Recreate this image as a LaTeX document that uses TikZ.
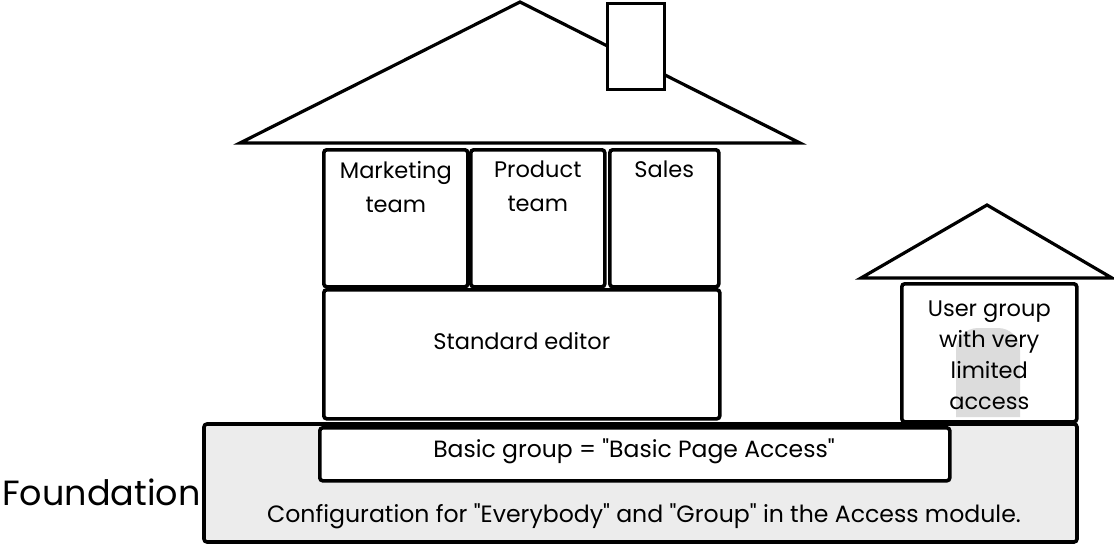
\documentclass[tikz,border=0pt]{standalone}
\usepackage{fontspec}
\setmainfont{Poppins}[Ligatures=TeXOff]
\definecolor{groundgrey}{HTML}{ECECEC}
\definecolor{doorgrey}{HTML}{DCDCDC}
\tikzset{
  sketchbox/.style={draw=black, line width=3.6pt, rounded corners=3pt, fill=white},
  roofline/.style={draw=black, line width=3.2pt, line join=miter, fill=white},
  boxtext/.style={font=\fontsize{22.5}{34}\selectfont, align=center, inner sep=0pt},
  bigtext/.style={font=\fontsize{35}{38}\selectfont, inner sep=0pt}
}
\begin{document}
\begin{tikzpicture}[x=1pt, y=-1pt]
  \useasboundingbox (0,0) rectangle (1114,546);
  % foundation slab
  \path[sketchbox, fill=groundgrey] (204,424) rectangle (1077,542);
  \node[sketchbox, anchor=north west, minimum width=630pt, minimum height=53pt] (basic) at (318,426) {};
  \node[boxtext, font=\fontsize{23.5}{34}\selectfont] (basictxt) at (634,451) {Basic group = "Basic Page Access"};
  \node[boxtext, font=\fontsize{23.6}{34}\selectfont] (conftxt) at (644,516) {Configuration for "Everybody" and "Group" in the Access module.};
  \node[bigtext, anchor=west] (found) at (2,492) {Foundation};
  % main house roof and chimney
  \path[roofline] (240,143) -- (520,2) -- (800,143) -- cycle;
  \path[draw=black, line width=3pt, fill=white] (607,3) rectangle (664,89);
  % main house rooms
  \node[sketchbox, anchor=north west, minimum width=144pt, minimum height=137pt] (mkt) at (322,148) {};
  \node[sketchbox, anchor=north west, minimum width=134pt, minimum height=137pt] (prod) at (469,148) {};
  \node[sketchbox, anchor=north west, minimum width=109pt, minimum height=137pt] (sales) at (608,148) {};
  \node[sketchbox, anchor=north west, minimum width=396pt, minimum height=129pt] (std) at (322,288) {};
  \node[boxtext, anchor=north] (mkttxt) at (mkt.north) [yshift=-13pt] {Marketing\\team};
  \node[boxtext, anchor=north] (prodtxt) at (prod.north) [yshift=-13pt] {Product\\team};
  \node[boxtext, anchor=north] (salestxt) at (sales.north) [yshift=-13pt] {Sales};
  \node[boxtext] (stdtxt) at (std.center) [yshift=13pt] {Standard editor};
  % small house
  \path[roofline] (861,278) -- (987,205) -- (1112,278) -- cycle;
  \node[sketchbox, anchor=north west, minimum width=175pt, minimum height=138pt] (limited) at (900,282) {};
  \fill[doorgrey] (956,417) [rounded corners=22pt] -- (956,328) -- (1020,328) [sharp corners] -- (1020,417) -- cycle;
  \node[boxtext, font=\fontsize{22.5}{31}\selectfont] (limtxt) at (limited.center) [yshift=-2pt] {User group\\with very\\limited\\access};
\end{tikzpicture}
\end{document}
